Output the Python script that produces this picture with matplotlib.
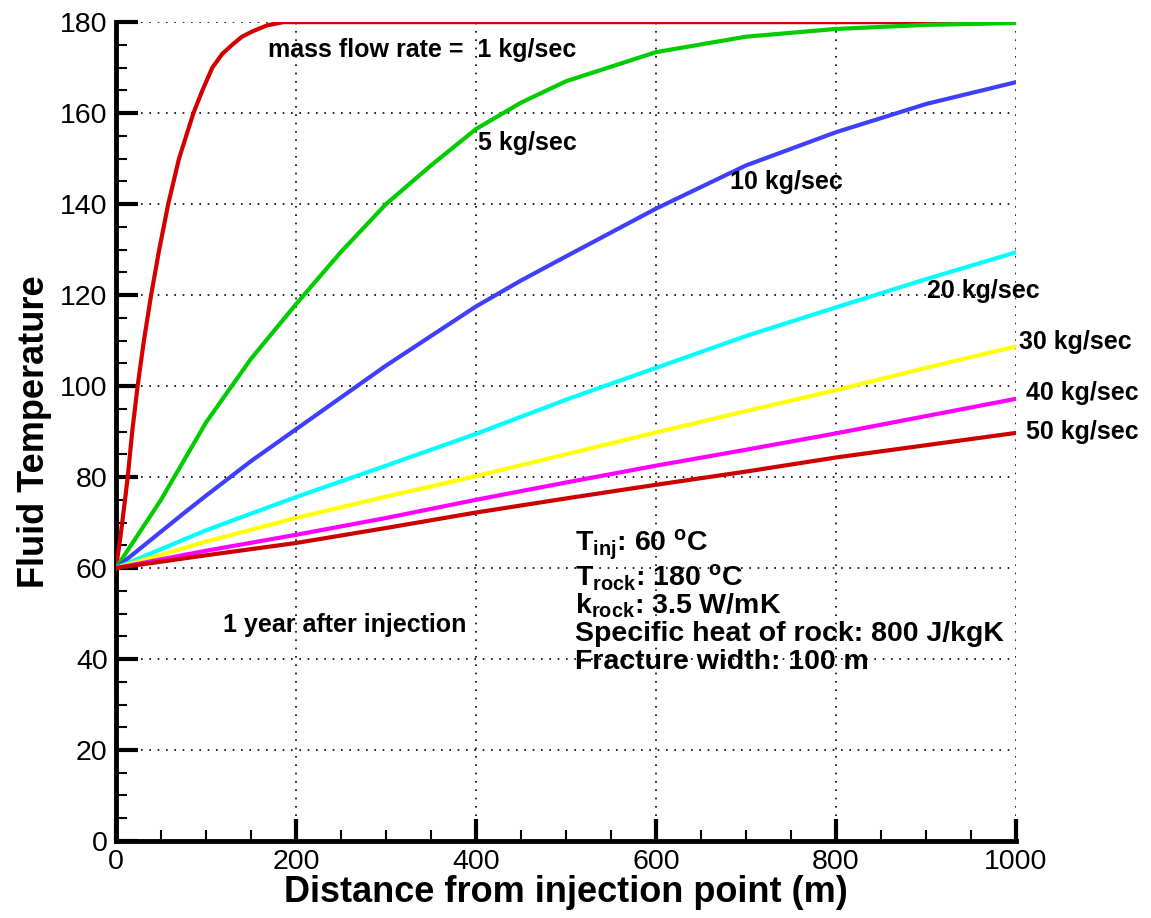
import matplotlib
matplotlib.use("Agg")
import matplotlib.pyplot as plt
from matplotlib.ticker import MultipleLocator

plt.rcParams['font.family'] = ['Liberation Sans', 'DejaVu Sans']
plt.rcParams['mathtext.fontset'] = 'custom'
plt.rcParams['mathtext.rm'] = 'Liberation Sans:bold'
plt.rcParams['mathtext.bf'] = 'Liberation Sans:bold'
plt.rcParams['mathtext.default'] = 'rm'

# distance from injection point (m) / fluid temperature
x_1 = [0, 5, 10, 13, 18, 24, 31, 39, 48, 58, 70, 86, 96, 107, 118, 129, 140, 152, 168, 186, 1000]
t_1 = [60, 67, 75, 80, 90, 100, 110, 120, 130, 140, 150, 160, 165, 170, 173, 175, 176.8, 178, 179.3, 180, 180]

x_std = [0, 25, 50, 75, 100, 150, 200, 250, 300, 350, 400, 450, 500, 600, 700, 800, 900, 1000]
t_5 = [60, 67.5, 75, 83.5, 92, 106, 118, 129.5, 140, 148.5, 156.5, 162.3, 167, 173.4, 176.8, 178.5, 179.4, 179.8]
t_10 = [60, 64, 68, 72, 75.9, 83.5, 90.5, 97.5, 104.5, 111, 117.5, 123.2, 128.5, 139, 148.5, 155.8, 162, 166.8]

x_lin = [0, 100, 200, 300, 400, 500, 600, 700, 800, 900, 1000]
t_20 = [60, 68.3, 75.6, 82.5, 89.5, 97, 104, 111, 117.3, 123.5, 129.4]
t_30 = [60, 65.8, 71, 75.7, 80.2, 85, 89.8, 94.5, 99.1, 104, 108.7]
t_40 = [60, 63.8, 67.3, 71, 75, 78.8, 82.5, 86, 89.6, 93.4, 97.2]
t_50 = [60, 62.8, 65.5, 68.8, 72.2, 75.3, 78.3, 81.2, 84.3, 87, 89.7]

fig = plt.figure(figsize=(11.51, 9.18), dpi=100)
ax = fig.add_axes([0.1008, 0.0839, 0.7819, 0.892])

lw = 3
ax.plot(x_1, t_1, color='#d40000', lw=lw, zorder=3)
ax.plot(x_std, t_5, color='#00cc00', lw=lw, zorder=3)
ax.plot(x_std, t_10, color='#3f3fff', lw=lw, zorder=3)
ax.plot(x_lin, t_20, color='#00ffff', lw=lw, zorder=3)
ax.plot(x_lin, t_30, color='#ffff00', lw=lw, zorder=3)
ax.plot(x_lin, t_40, color='#ff00ff', lw=lw, zorder=3)
ax.plot(x_lin, t_50, color='#cc0000', lw=lw, zorder=3)

ax.set_xlim(0, 1000)
ax.set_ylim(0, 180)
ax.xaxis.set_major_locator(MultipleLocator(200))
ax.xaxis.set_minor_locator(MultipleLocator(50))
ax.yaxis.set_major_locator(MultipleLocator(20))
ax.yaxis.set_minor_locator(MultipleLocator(5))

for s in ['top', 'right']:
    ax.spines[s].set_visible(False)
for s in ['left', 'bottom']:
    ax.spines[s].set_linewidth(3.5)

ax.tick_params(which='major', direction='in', length=16, width=3, labelsize=20.5, pad=6)
ax.tick_params(which='minor', direction='in', length=8, width=1.5)
ax.grid(True, which='major', color='black', linestyle=(0, (1, 4)), linewidth=1.2)

ax.set_xlabel('Distance from injection point (m)', fontsize=26, fontweight='bold', labelpad=0)
ax.set_ylabel('Fluid Temperature', fontsize=26, fontweight='bold', labelpad=6)

lab = dict(fontsize=18, fontweight='bold', va='center', ha='left')
ax.text(169, 173.8, 'mass flow rate =  1 kg/sec', **lab)
ax.text(402, 153.4, '5 kg/sec', **lab)
ax.text(682, 144.8, '10 kg/sec', **lab)
ax.text(901, 121, '20 kg/sec', **lab)
ax.text(1003, 109.7, '30 kg/sec', clip_on=False, **lab)
ax.text(1011, 98.5, '40 kg/sec', clip_on=False, **lab)
ax.text(1011, 89.9, '50 kg/sec', clip_on=False, **lab)
ax.text(119, 47.5, '1 year after injection', **lab)

ann = dict(fontsize=20.5, fontweight='bold', va='center', ha='left')
ax.text(510, 65, r'T$_{inj}$: 60 $^{o}$C', **ann)
ax.text(510, 57.8, r'T$_{rock}$: 180 $^{o}$C', **ann)
ax.text(510, 51.6, r'k$_{rock}$: 3.5 W/mK', **ann)
ax.text(510, 45.5, 'Specific heat of rock: 800 J/kgK', **ann)
ax.text(510, 39.3, 'Fracture width: 100 m', **ann)

fig.savefig('out.png', dpi=100)
